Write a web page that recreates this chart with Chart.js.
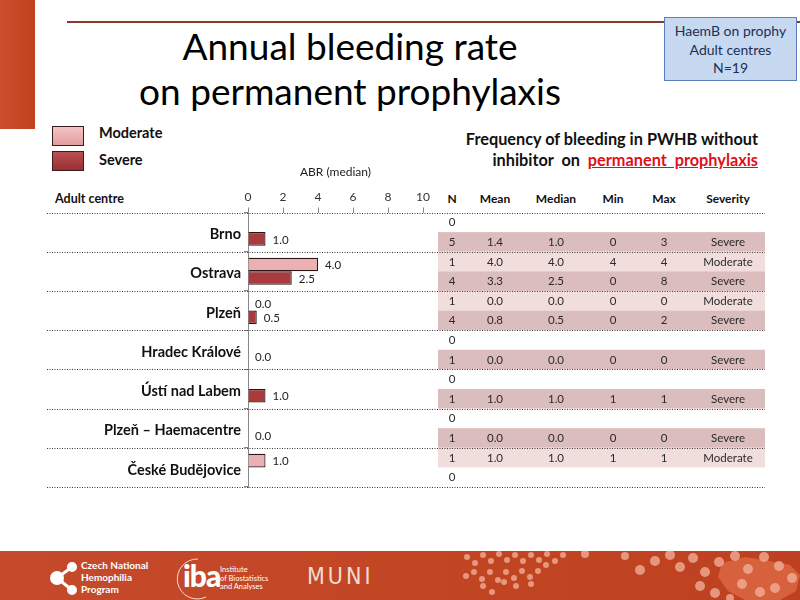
<!DOCTYPE html>
<html><head><meta charset="utf-8">
<script src="https://cdn.jsdelivr.net/npm/chart.js@4.4.0/dist/chart.umd.min.js"></script>
<style>
html,body{margin:0;padding:0;width:800px;height:600px;overflow:hidden;background:#fff;font-family:Lato,'Open Sans',sans-serif;}
#stage{position:relative;width:800px;height:600px;}
.abs{position:absolute;white-space:nowrap;}
#chart{position:absolute;left:0;top:0;z-index:2;pointer-events:none;}
#leftbar{position:absolute;left:0;top:0;width:35px;height:129px;background:linear-gradient(90deg,#cc4e2e,#c0431f);}
#topline{position:absolute;left:67px;top:21px;width:733px;height:2px;background:#8a3a2a;}
#title{position:absolute;left:0;top:23px;width:700px;text-align:center;font-size:37px;line-height:45px;color:#000;}
#box{position:absolute;left:664px;top:17px;width:131px;border:1px solid #5a7fba;background:#c6d9f1;text-align:center;font-size:14px;line-height:18.5px;color:#1d2f55;padding-top:4px;box-sizing:content-box;height:58px;z-index:3;}
.lbox{position:absolute;left:52px;width:30px;height:18px;border:1.5px solid #3a1c1c;}
.ltxt{position:absolute;left:99px;font-weight:bold;font-size:14.5px;color:#111;line-height:16px;}
#freq{position:absolute;right:42px;top:128px;text-align:right;font-weight:bold;font-size:16.3px;line-height:21px;color:#111;}
#freq .red{color:#e0101a;text-decoration:underline;}
.hdr{position:absolute;font-weight:bold;font-size:12px;color:#111;line-height:14px;text-align:center;width:70px;}
.cell{position:absolute;font-size:11.5px;color:#2a2a2a;line-height:14px;text-align:center;width:70px;z-index:3;}
#footer{position:absolute;left:0;top:551px;width:800px;height:49px;background:linear-gradient(90deg,#c54a2b,#c24523 60%,#bd4020);overflow:hidden;}
.ft{position:absolute;color:#fff;white-space:nowrap;}
</style></head>
<body><div id="stage">
<div id="leftbar"></div>
<div id="topline"></div>
<div id="title">Annual bleeding rate<br>on permanent prophylaxis</div>
<div id="box">HaemB on prophy<br>Adult centres<br>N=19</div>

<div class="lbox" style="top:126px;background:linear-gradient(180deg,#f4c4c5,#e39d9f);"></div>
<div class="lbox" style="top:151px;background:linear-gradient(180deg,#bb5053,#9a2f33);"></div>
<div class="ltxt" style="top:125px;">Moderate</div>
<div class="ltxt" style="top:152px;">Severe</div>

<div id="freq">Frequency of bleeding in PWHB without<br>inhibitor &nbsp;on&nbsp; <span class="red">permanent &nbsp;prophylaxis</span></div>

<div class="abs" style="left:55px;top:191px;font-weight:bold;font-size:12.5px;color:#111;">Adult centre</div>
<div id="tablehdr"></div>
<div id="tablebody"></div>

<canvas id="chart" width="800" height="600"></canvas>

<div id="footer">
  <svg width="800" height="49" style="position:absolute;left:0;top:0;">
    <g fill="#fff" stroke="#fff" stroke-width="3">
      <line x1="57" y1="27" x2="72" y2="16"/><line x1="57" y1="27" x2="72" y2="39"/>
      <circle cx="57" cy="27" r="5.5"/><circle cx="72" cy="16" r="3.5"/><circle cx="72" cy="39" r="3.5"/>
    </g>
    <path d="M198 8 A20 20 0 1 0 206 46" fill="none" stroke="#fff" stroke-width="1" opacity="0.8"/>
    <polygon points="722,12 745,6 770,10 790,14 800,24 796,40 780,49 745,49 728,40 718,26" fill="#d9653f" opacity="0.9"/>
    <g id="dots" fill="#f3b39c" opacity="0.75"></g>
  </svg>
  <div class="ft" style="left:81px;top:8px;font-weight:bold;font-size:10px;line-height:12px;">Czech National<br>Hemophilia<br>Program</div>
  <div class="ft" style="left:183px;top:7px;font-weight:900;font-size:30px;line-height:34px;letter-spacing:-1px;">iba</div>
  <div class="ft" style="left:220px;top:15px;font-size:7.5px;line-height:8.5px;">Institute<br>of Biostatistics<br>and Analyses</div>
  <div class="ft" style="left:307px;top:12px;font-size:23px;line-height:26px;letter-spacing:3px;color:#f3dcd3;font-family:'DejaVu Sans Condensed','DejaVu Sans',sans-serif;">MUNI</div>
</div>
</div>
<script>
// ---- data ----
const centres = ['Brno','Ostrava','Plzeň','Hradec Králové','Ústí nad Labem','Plzeň – Haemacentre','České Budějovice'];
const moderateABR = [null, 4.0, 0.0, null, null, null, 1.0];
const severeABR   = [1.0, 2.5, 0.5, 0.0, 1.0, 0.0, null];
const xTicks = [0, 2, 4, 6, 8, 10];

const tableCols = ['N','Mean','Median','Min','Max','Severity'];
const moderateN    = [0, 1, 1, 0, 0, 0, 1];
const moderateMean = [null, 4.0, 0.0, null, null, null, 1.0];
const moderateMed  = [null, 4.0, 0.0, null, null, null, 1.0];
const moderateMin  = [null, 4, 0, null, null, null, 1];
const moderateMax  = [null, 4, 0, null, null, null, 1];
const severeN      = [5, 4, 4, 1, 1, 1, 0];
const severeMean   = [1.4, 3.3, 0.8, 0.0, 1.0, 0.0, null];
const severeMed    = [1.0, 2.5, 0.5, 0.0, 1.0, 0.0, null];
const severeMin    = [0, 0, 0, 0, 1, 0, null];
const severeMax    = [3, 8, 2, 0, 1, 0, null];

// ---- styling ----
const colX = [452, 495, 556, 613, 664, 728];
const tableLeft = 438, tableRight = 765;
const FONT = "Lato, 'Open Sans', sans-serif";

// footer decoration dots
(function(){
  const g = document.getElementById('dots');
  const pts = [[467,6,3],[475,12,3],[483,4,3],[491,10,3],[499,3,3],[507,9,3],[515,4,3],[523,10,3],[531,4,3],[539,9,3],[547,3,3],[555,10,3],[563,4,3],
    [466,25,3],[474,21,3],[482,28,3],[490,21,3],[498,29,3],[506,21,3],[514,27,3],[522,20,3],[530,26,3],[538,20,3],[546,14,3],
    [483,35,3],[492,41,3],[504,31,3],[516,35,3],[531,33,3],[585,3,4],
    [640,19,5],[655,10,5],[670,4,5],[680,16,5],[693,7,5],[705,21,5],[719,11,5],[735,5,5],[748,18,5],[764,6,5],[779,15,5],[792,27,5],
    [700,35,5],[715,42,5],[742,33,5],[760,41,5],[775,37,5],[730,47,4],[625,5,4]];
  pts.forEach(p=>{const c=document.createElementNS('http://www.w3.org/2000/svg','circle');c.setAttribute('cx',p[0]);c.setAttribute('cy',p[1]);c.setAttribute('r',p[2]);g.appendChild(c);});
})();

function fmt(v, dec){ return v === null ? '' : v.toFixed(dec); }
function tableRows(){
  const rows = [];
  centres.forEach((c, i) => {
    rows.push({cat:i, part:0, kind:'Moderate', n:moderateN[i],
      vals:[moderateN[i], fmt(moderateMean[i],1), fmt(moderateMed[i],1), fmt(moderateMin[i],0), fmt(moderateMax[i],0), moderateN[i] ? 'Moderate' : '']});
    rows.push({cat:i, part:1, kind:'Severe', n:severeN[i],
      vals:[severeN[i], fmt(severeMean[i],1), fmt(severeMed[i],1), fmt(severeMin[i],0), fmt(severeMax[i],0), severeN[i] ? 'Severe' : '']});
  });
  return rows;
}

const decor = {
  id: 'decor',
  beforeDraw(chart){
    const {ctx, chartArea} = chart;
    const h = (chartArea.bottom - chartArea.top) / centres.length;
    ctx.save();
    tableRows().forEach(r => {
      if (!r.n) return;
      ctx.fillStyle = r.kind === 'Severe' ? '#dcbdbe' : '#f2dddd';
      const top = chartArea.top + r.cat*h + r.part*h/2;
      ctx.fillRect(tableLeft, top, tableRight - tableLeft, h/2);
    });
    ctx.restore();
  },
  afterDatasetsDraw(chart){
    const {ctx, chartArea} = chart;
    const h = (chartArea.bottom - chartArea.top) / centres.length;
    ctx.save();
    ctx.strokeStyle = '#3a3a3a';
    ctx.lineWidth = 1;
    ctx.setLineDash([1, 1.5]);
    for (let i = 0; i <= centres.length; i++){
      const y = Math.round(chartArea.top + i*h) + 0.5;
      ctx.beginPath(); ctx.moveTo(47, y); ctx.lineTo(tableRight, y); ctx.stroke();
    }
    ctx.setLineDash([]);
    ctx.fillStyle = '#222';
    ctx.font = '11.5px ' + FONT;
    ctx.textAlign = 'left';
    ctx.textBaseline = 'middle';
    chart.data.datasets.forEach((ds, di) => {
      const meta = chart.getDatasetMeta(di);
      meta.data.forEach((bar, j) => {
        const v = ds.data[j];
        if (v === null || v === undefined) return;
        ctx.fillText(v.toFixed(1), bar.x + 7, bar.y + 1);
      });
    });
    ctx.restore();
  }
};

const chart = new Chart(document.getElementById('chart'), {
  type: 'bar',
  data: {
    labels: centres,
    datasets: [
      {label:'Moderate', data: moderateABR, backgroundColor:'#ebb0b2', borderColor:'#2b1414', borderWidth:1.2, categoryPercentage:0.69, barPercentage:1},
      {label:'Severe', data: severeABR, backgroundColor:'#a93a3d', borderColor:'#2b1414', borderWidth:1.2, categoryPercentage:0.69, barPercentage:1}
    ]
  },
  options: {
    indexAxis: 'y',
    responsive: false,
    animation: false,
    layout: {padding: {left: 0, top: 160, right: 377, bottom: 113}},
    plugins: {legend: {display: false}, tooltip: {enabled: false}},
    scales: {
      x: {
        position: 'top', min: 0, max: 10,
        afterBuildTicks: s => { s.ticks = xTicks.map(v => ({value: v})); },
        afterFit: s => { s.height = 52.5; },
        ticks: {font: {family: FONT, size: 12}, color: '#333', padding: 3},
        grid: {drawOnChartArea: false, tickLength: 5, color: '#888'},
        border: {display: false},
        title: {display: true, text: 'ABR (median)', font: {family: FONT, size: 12}, color: '#222', padding: {top: 5, bottom: 0}}
      },
      y: {
        afterFit: s => { s.width = 248; },
        ticks: {font: {family: FONT, size: 14.5, weight: 'bold'}, color: '#111', padding: 3, labelOffset: 2.5},
        grid: {drawOnChartArea: false, tickLength: 4, color: '#888', offset: true},
        border: {color: '#888', width: 1}
      }
    }
  },
  plugins: [decor]
});

// ---- table text, positioned on the chart's category scale ----
(function(){
  const ca = chart.chartArea;
  const h = (ca.bottom - ca.top) / centres.length;
  const hdr = document.getElementById('tablehdr');
  tableCols.forEach((t, k) => {
    const d = document.createElement('div');
    d.className = 'hdr';
    d.textContent = t;
    d.style.left = (colX[k] - 35) + 'px';
    d.style.top = '192px';
    hdr.appendChild(d);
  });
  const body = document.getElementById('tablebody');
  tableRows().forEach(r => {
    const yc = ca.top + r.cat*h + r.part*h/2 + h/4;
    r.vals.forEach((v, k) => {
      if (v === '' ) return;
      if (!r.n && k > 0) return;
      const d = document.createElement('div');
      d.className = 'cell';
      d.textContent = v;
      d.style.left = (colX[k] - 35) + 'px';
      d.style.top = (yc - 7) + 'px';
      body.appendChild(d);
    });
  });
})();
</script>
</body></html>
